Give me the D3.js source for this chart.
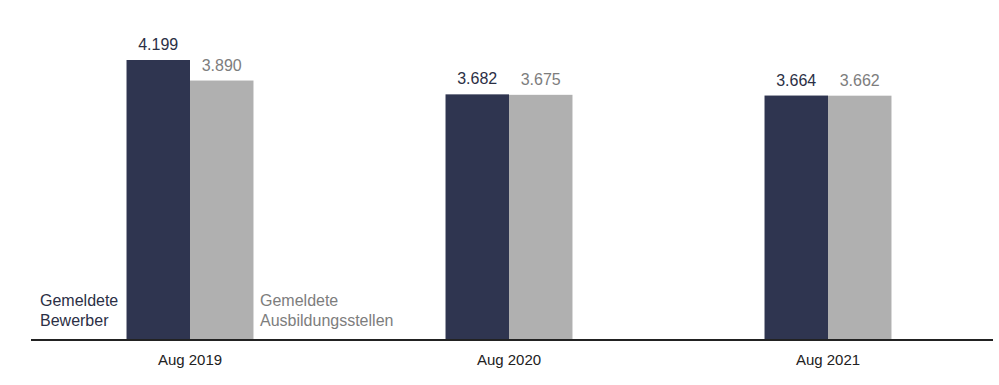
<!DOCTYPE html>
<html>
<head>
<meta charset="utf-8">
<script src="https://cdn.jsdelivr.net/npm/d3@7"></script>
<style>
  body { margin: 0; background: #fff; }
  text { font-family: "Liberation Sans", Arial, sans-serif; }
</style>
</head>
<body>
<script>
// data
const months = ["Aug 2019", "Aug 2020", "Aug 2021"];
const series = ["Gemeldete Bewerber", "Gemeldete Ausbildungsstellen"];
const bewerber = [4199, 3682, 3664];
const stellen = [3890, 3675, 3662];

const colors = ["#2f3550", "#b0b0b0"];
const labelColors = ["#2b2f45", "#7d7d7d"];

const width = 999, height = 385;
const baseline = 339;

const svg = d3.select("body").append("svg")
  .attr("width", width)
  .attr("height", height);

// scales
const x = d3.scaleBand()
  .domain(months)
  .range([30.5, 987.5])
  .paddingInner(0.602)
  .paddingOuter(0.301);

const xSub = d3.scaleBand()
  .domain(series)
  .range([0, x.bandwidth()]);

const y = d3.scaleLinear()
  .domain([0, 4199])
  .range([baseline, 60]);

const fmt = d3.formatLocale({decimal: ",", thousands: ".", grouping: [3], currency: ["", "€"]}).format(",");

const rows = months.map((m, i) => ({month: m, values: [bewerber[i], stellen[i]]}));

const groups = svg.selectAll("g.group")
  .data(rows)
  .enter().append("g")
  .attr("class", "group")
  .attr("transform", d => "translate(" + x(d.month) + ",0)");

groups.selectAll("rect")
  .data(d => d.values.map((v, j) => ({key: series[j], v: v, j: j})))
  .enter().append("rect")
  .attr("x", d => xSub(d.key))
  .attr("y", d => y(d.v))
  .attr("width", xSub.bandwidth())
  .attr("height", d => baseline - y(d.v))
  .attr("fill", d => colors[d.j]);

groups.selectAll("text.val")
  .data(d => d.values.map((v, j) => ({key: series[j], v: v, j: j})))
  .enter().append("text")
  .attr("class", "val")
  .attr("x", d => xSub(d.key) + xSub.bandwidth() / 2)
  .attr("y", d => y(d.v) - 10)
  .attr("text-anchor", "middle")
  .attr("font-size", 16)
  .attr("fill", d => labelColors[d.j])
  .text(d => fmt(d.v));

// x axis
const xAxis = svg.append("g")
  .attr("transform", "translate(0," + baseline + ")")
  .call(d3.axisBottom(x).tickSize(0).tickPadding(15));
xAxis.select(".domain").remove();
xAxis.selectAll("text")
  .attr("font-size", 15)
  .attr("fill", "#222")
  .style("font-family", "Liberation Sans, Arial, sans-serif");
svg.append("line")
  .attr("x1", 31).attr("x2", 993)
  .attr("y1", baseline + 1).attr("y2", baseline + 1)
  .attr("stroke", "#222")
  .attr("stroke-width", 2);

// legend labels next to the first group
const legend = [
  {lines: ["Gemeldete", "Bewerber"], x: 40, color: labelColors[0]},
  {lines: ["Gemeldete", "Ausbildungsstellen"], x: 260, color: labelColors[1]}
];
legend.forEach(l => {
  const t = svg.append("text")
    .attr("x", l.x)
    .attr("y", 306)
    .attr("font-size", 16)
    .attr("fill", l.color);
  l.lines.forEach((s, i) => {
    t.append("tspan").attr("x", l.x).attr("dy", i ? 20 : 0).text(s);
  });
});
</script>
</body>
</html>
